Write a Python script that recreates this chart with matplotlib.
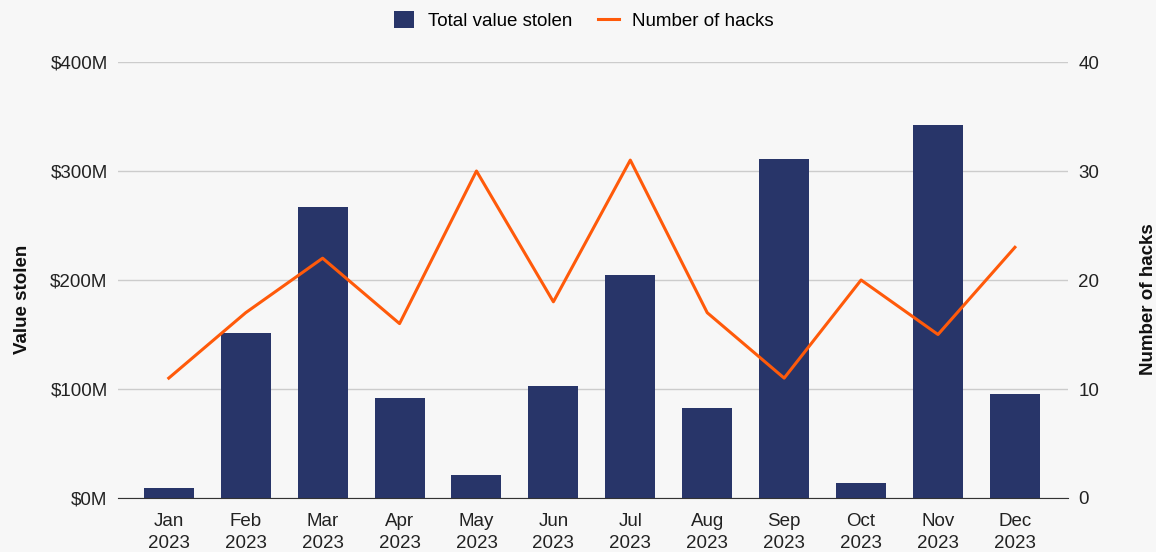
import numpy as np
import matplotlib.pyplot as plt
from matplotlib.ticker import FuncFormatter

plt.rcParams['font.family'] = ['Liberation Sans', 'DejaVu Sans']

months = ['Jan\n2023', 'Feb\n2023', 'Mar\n2023', 'Apr\n2023', 'May\n2023', 'Jun\n2023',
          'Jul\n2023', 'Aug\n2023', 'Sep\n2023', 'Oct\n2023', 'Nov\n2023', 'Dec\n2023']
value_stolen = [9, 151, 267, 92, 21, 103, 205, 83, 311, 14, 342, 95]  # $M
num_hacks = [11, 17, 22, 16, 30, 18, 31, 17, 11, 20, 15, 23]

bg = '#f7f7f7'
navy = '#283569'
orange = '#ff5a0a'
fs = 13.5

fig = plt.figure(figsize=(11.56, 5.52), dpi=100, facecolor=bg)
ax = fig.add_axes([118/1156, 1 - 498/552, 950/1156, 436/552])
ax.set_facecolor(bg)
ax2 = ax.twinx()

x = np.arange(len(months))
ax.bar(x, value_stolen, width=0.65, color=navy, zorder=2, label='Total value stolen')
ax2.plot(x, num_hacks, color=orange, lw=2.2, zorder=3, label='Number of hacks')

ax.set_xlim(-0.66, 11.69)
ax.set_ylim(0, 400)
ax2.set_ylim(0, 40)
ax.set_yticks([0, 100, 200, 300, 400])
ax2.set_yticks([0, 10, 20, 30, 40])
ax.yaxis.set_major_formatter(FuncFormatter(lambda v, p: f'${v:.0f}M'))
ax.set_xticks(x)
ax.set_xticklabels(months, linespacing=1.4)

ax.grid(axis='y', color='#cccccc', lw=1, zorder=0)
ax.set_axisbelow(True)
for a in (ax, ax2):
    for s in a.spines.values():
        s.set_visible(False)
    a.tick_params(length=0, labelsize=fs, colors='#222222')
ax.spines['bottom'].set_visible(True)
ax.spines['bottom'].set_color('#333333')
ax.tick_params(axis='y', pad=7.5)
ax2.tick_params(axis='y', pad=7.5)
ax.tick_params(axis='x', pad=10.5)

ax.set_ylabel('Value stolen', fontsize=fs, fontweight='bold', labelpad=14, color='#111111')
ax2.set_ylabel('Number of hacks', fontsize=fs, fontweight='bold', labelpad=29, rotation=90,
               color='#111111')
ax.yaxis.label.set_y(0.455)
ax2.yaxis.label.set_y(0.455)

h1, l1 = ax.get_legend_handles_labels()
h2, l2 = ax2.get_legend_handles_labels()
fig.legend(h1 + h2, l1 + l2, loc='upper center', bbox_to_anchor=(0.505, 1.01), ncol=2,
           frameon=False, fontsize=fs, handlelength=1.1, handleheight=1.0, columnspacing=1.4,
           handletextpad=0.72)

fig.savefig('out.png', dpi=100, facecolor=bg)
